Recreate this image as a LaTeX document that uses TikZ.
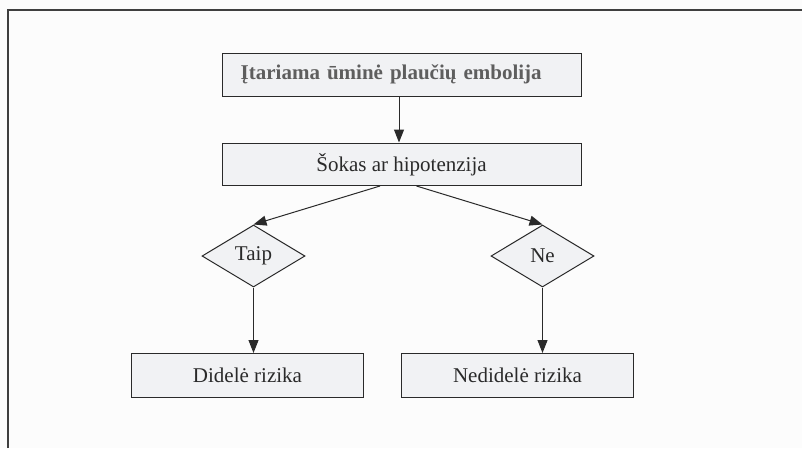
\documentclass[tikz,border=0pt]{standalone}
\usepackage{fontspec}
\setmainfont{Liberation Serif}
\usetikzlibrary{arrows.meta,shapes.geometric}
\definecolor{boxfill}{HTML}{F1F2F4}
\definecolor{linecol}{HTML}{2A2A2A}
\definecolor{titlecol}{HTML}{5E5E5E}
\definecolor{pagebg}{HTML}{FCFCFC}
\tikzset{
  txt/.style={font=\fontsize{21}{25}\selectfont, text=linecol},
  stepbox/.style={txt, draw=linecol, fill=boxfill, line width=1pt, inner sep=0pt},
  wide/.style={stepbox, minimum width=359pt, minimum height=42.5pt},
  result/.style={stepbox, minimum width=232pt, minimum height=44pt},
  choice/.style={txt, diamond, draw=linecol, fill=boxfill, line width=1pt, inner sep=0pt,
    minimum width=103pt, minimum height=62pt, aspect=1.66},
  flow/.style={draw=linecol, line width=1pt, -{Triangle[length=13pt,width=10pt]}},
}
\begin{document}
\begin{tikzpicture}[x=1pt,y=-1pt]
  \fill[pagebg] (0,0) rectangle (802,448);
  \useasboundingbox (0,0) rectangle (802,448);
  % outer frame (top and left edges)
  \draw[linecol!90, line width=2pt] (7.5,448) -- (7.5,9.5) -- (802,9.5);

  % process boxes
  \node[wide, text=titlecol, font=\fontsize{21}{25}\selectfont\bfseries,
        align=left, text width=359pt, inner xsep=0pt, execute at begin node=\hspace*{18.7pt}]
        (start) at (401.5,74.75) {Įtariama ūminė plaučių embolija};
  \node[wide] (shock) at (401.5,164.25) {Šokas ar hipotenzija};

  % decisions
  \node[choice] (yes) at (253.5,256) {Taip};
  \node[choice] (no) at (542.5,256) {Ne};

  % outcomes
  \node[result] (high) at (247.5,375.5) {Didelė rizika};
  \node[result] (low) at (517.5,375.5) {Nedidelė rizika};

  % connectors
  \draw[flow] ([xshift=-2.5pt]start.south) -- ([xshift=-2.5pt]shock.north);
  \draw[flow] ([xshift=-21.5pt]shock.south) -- (yes.north);
  \draw[flow] ([xshift=15pt]shock.south) -- (no.north);
  \draw[flow] (yes.south) -- (yes.south |- high.north);
  \draw[flow] (no.south) -- (no.south |- low.north);
\end{tikzpicture}
\end{document}
